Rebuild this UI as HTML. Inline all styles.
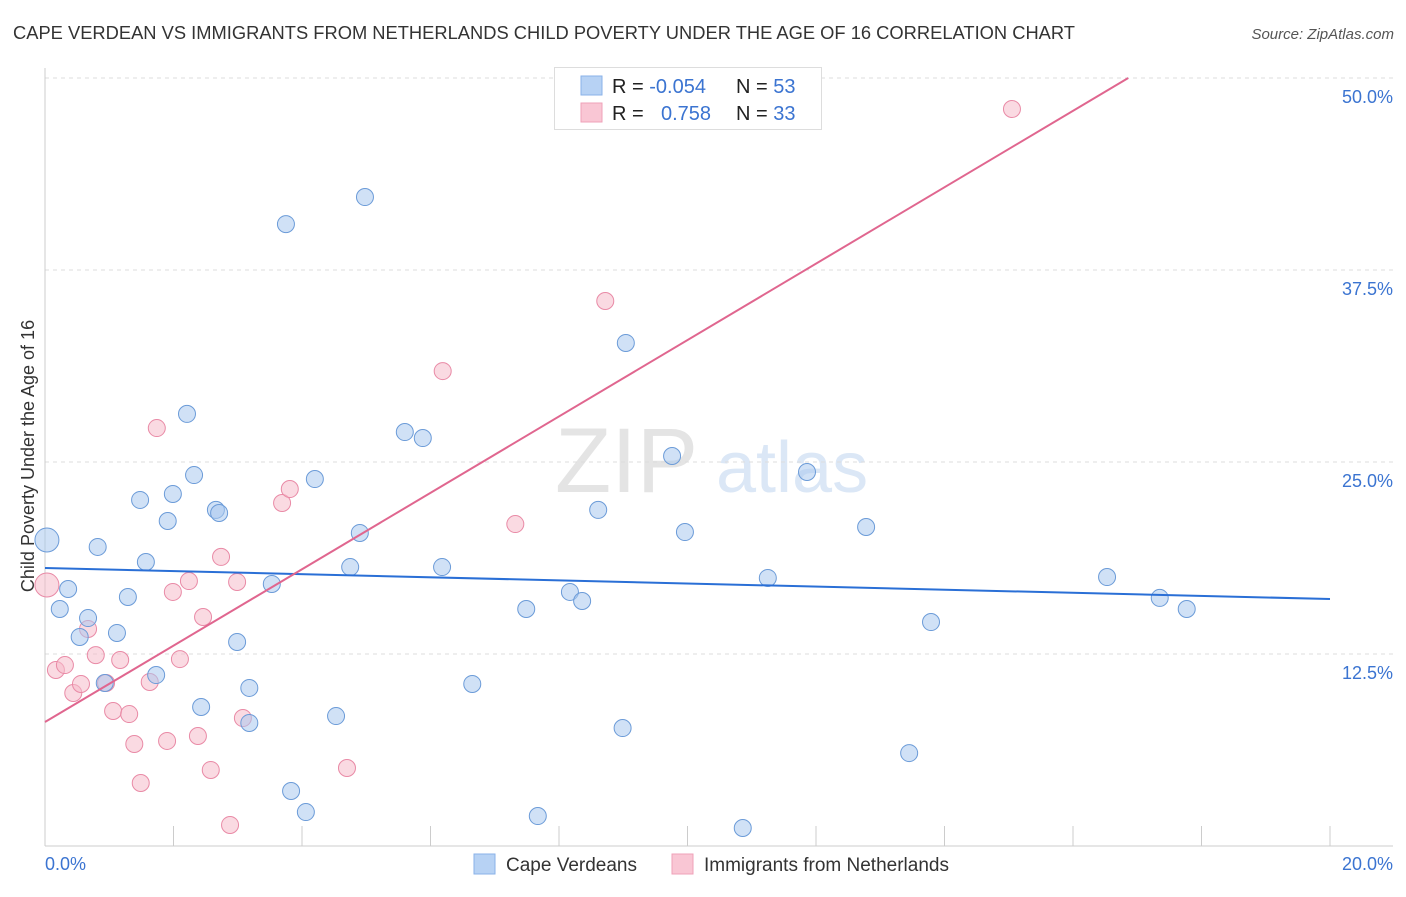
<!DOCTYPE html>
<html><head><meta charset="utf-8"><style>
body{margin:0;background:#fff;font-family:"Liberation Sans",sans-serif}
svg text{font-family:"Liberation Sans",sans-serif}
</style></head><body>
<svg id="c" width="1406" height="892" xmlns="http://www.w3.org/2000/svg">
<text x="13" y="39" font-size="18" fill="#333" textLength="1062" lengthAdjust="spacingAndGlyphs">CAPE VERDEAN VS IMMIGRANTS FROM NETHERLANDS CHILD POVERTY UNDER THE AGE OF 16 CORRELATION CHART</text>
<text x="1394" y="39" font-size="15" fill="#555" text-anchor="end" font-style="italic">Source: ZipAtlas.com</text>
<text x="555" y="492" font-size="92" fill="#e4e4e4" font-family="Liberation Serif">ZIP</text>
<text x="716" y="492" font-size="72" fill="#dbe7f6">atlas</text>
<text transform="translate(34,456) rotate(-90)" font-size="18" fill="#333" text-anchor="middle">Child Poverty Under the Age of 16</text>
<g id="grid"></g><g id="marks"></g>
<g>
<rect x="554.5" y="67.5" width="267" height="62" fill="#fff" stroke="#ddd"/>
<rect x="581" y="76" width="21" height="19" fill="#b7d2f4" stroke="#8ab2e8"/>
<rect x="581" y="103" width="21" height="19" fill="#f9c6d4" stroke="#efa1b8"/>
<text x="612" y="93" font-size="20" fill="#222">R = <tspan fill="#3b74d1">-0.054</tspan></text>
<text x="736" y="93" font-size="20" fill="#222">N = <tspan fill="#3b74d1">53</tspan></text>
<text x="612" y="120" font-size="20" fill="#222">R = </text>
<text x="661" y="120" font-size="20" fill="#3b74d1">0.758</text>
<text x="736" y="120" font-size="20" fill="#222">N = <tspan fill="#3b74d1">33</tspan></text>
</g>
<g>
<rect x="474" y="854" width="21" height="20" fill="#b7d2f4" stroke="#8ab2e8"/>
<text x="506" y="871" font-size="19" fill="#333">Cape Verdeans</text>
<rect x="672" y="854" width="21" height="20" fill="#f9c6d4" stroke="#efa1b8"/>
<text x="704" y="871" font-size="19" fill="#333">Immigrants from Netherlands</text>
</g>
<text x="45" y="870" font-size="18" fill="#3b74d1">0.0%</text>
<text x="1393" y="870" font-size="18" fill="#3b74d1" text-anchor="end">20.0%</text>
</svg>
<script>
const yTicks=[12.5,25,37.5,50];
const yTickLabels=["12.5%","25.0%","37.5%","50.0%"];
const blueX=[0.03,0.36,0.23,0.67,0.54,0.82,1.12,0.93,1.29,1.48,1.57,1.73,1.91,1.99,2.21,2.32,2.43,2.66,2.71,2.99,3.18,3.18,3.53,3.75,3.83,4.06,4.20,4.53,4.75,4.90,4.98,5.60,5.88,6.18,6.65,7.49,7.67,8.17,8.36,8.61,8.99,9.04,9.76,9.96,10.86,11.25,11.86,12.78,13.45,13.79,16.53,17.35,17.77];
const blueY=[19.92,16.73,15.43,14.84,13.61,19.47,13.87,10.61,16.21,22.53,18.49,11.13,21.16,22.92,28.13,24.15,9.05,21.88,21.68,13.28,10.29,8.01,17.06,40.49,3.58,2.21,23.89,8.46,18.16,20.38,42.25,26.95,26.56,18.16,10.55,15.43,1.95,16.54,15.95,21.88,7.68,32.75,25.39,20.44,1.17,17.45,24.35,20.77,6.05,14.58,17.51,16.15,15.43];
const pinkX=[0.03,0.17,0.31,0.44,0.56,0.67,0.79,0.95,1.06,1.17,1.31,1.39,1.49,1.63,1.74,1.90,1.99,2.10,2.24,2.38,2.46,2.58,2.74,2.88,2.99,3.08,3.69,3.81,4.70,6.19,7.32,8.72,15.05];
const pinkY=[16.99,11.46,11.78,9.96,10.55,14.13,12.43,10.61,8.79,12.11,8.59,6.64,4.10,10.68,27.21,6.84,16.54,12.17,17.25,7.16,14.91,4.95,18.82,1.37,17.19,8.33,22.33,23.24,5.08,30.92,20.96,35.48,47.98];
const blueTrend=[18.10,16.08];
const pinkTrend=[8.07,2.487];
const NS="http://www.w3.org/2000/svg";
const sx=v=>45+v/20*1285, sy=v=>846-v/12.5*192;
const grid=document.getElementById('grid'), marks=document.getElementById('marks');
function mk(p,tag,a){const e=document.createElementNS(NS,tag);for(const k in a)e.setAttribute(k,a[k]);p.appendChild(e);return e;}
yTicks.forEach((t,i)=>{
 const l=mk(grid,'line',{x1:45,x2:1393,y1:sy(t),y2:sy(t),stroke:'#ddd','stroke-dasharray':'4,4'});
 
 
 const tx=mk(grid,'text',{x:1393,y:sy(t)+25,'font-size':18,fill:'#3b74d1','text-anchor':'end'});tx.textContent=yTickLabels[i];
 
 
});
mk(grid,'line',{x1:45,x2:45,y1:68,y2:846,stroke:'#ccc'});
mk(grid,'line',{x1:45,x2:1393,y1:846,y2:846,stroke:'#ccc'});
for(let i=1;i<=10;i++){const x=sx(i*2);const t=mk(grid,'line',{x1:x,x2:x,y1:826,y2:846,stroke:'#ccc'});
 
 }
function pts(X,Y,fill,stroke,name){X.forEach((x,i)=>{const c=mk(marks,'circle',{cx:sx(x),cy:sy(Y[i]),r:i===0?12:8.5,fill:fill,'fill-opacity':0.55,stroke:stroke,'stroke-width':1});
 
 });}
pts(pinkX,pinkY,'#f6bccb','#e98aa6','pink-point');
pts(blueX,blueY,'#a9c8ef','#6b9bd8','blue-point');
const bl=mk(marks,'line',{x1:sx(0),y1:sy(blueTrend[0]),x2:sx(20),y2:sy(blueTrend[1]),stroke:'#2a6fd6','stroke-width':2});


const xe=Math.min(20,(50-pinkTrend[0])/pinkTrend[1]);
const pl=mk(marks,'line',{x1:sx(0),y1:sy(pinkTrend[0]),x2:sx(xe),y2:sy(pinkTrend[0]+pinkTrend[1]*xe),stroke:'#e0668f','stroke-width':2});


</script>
</body></html>
